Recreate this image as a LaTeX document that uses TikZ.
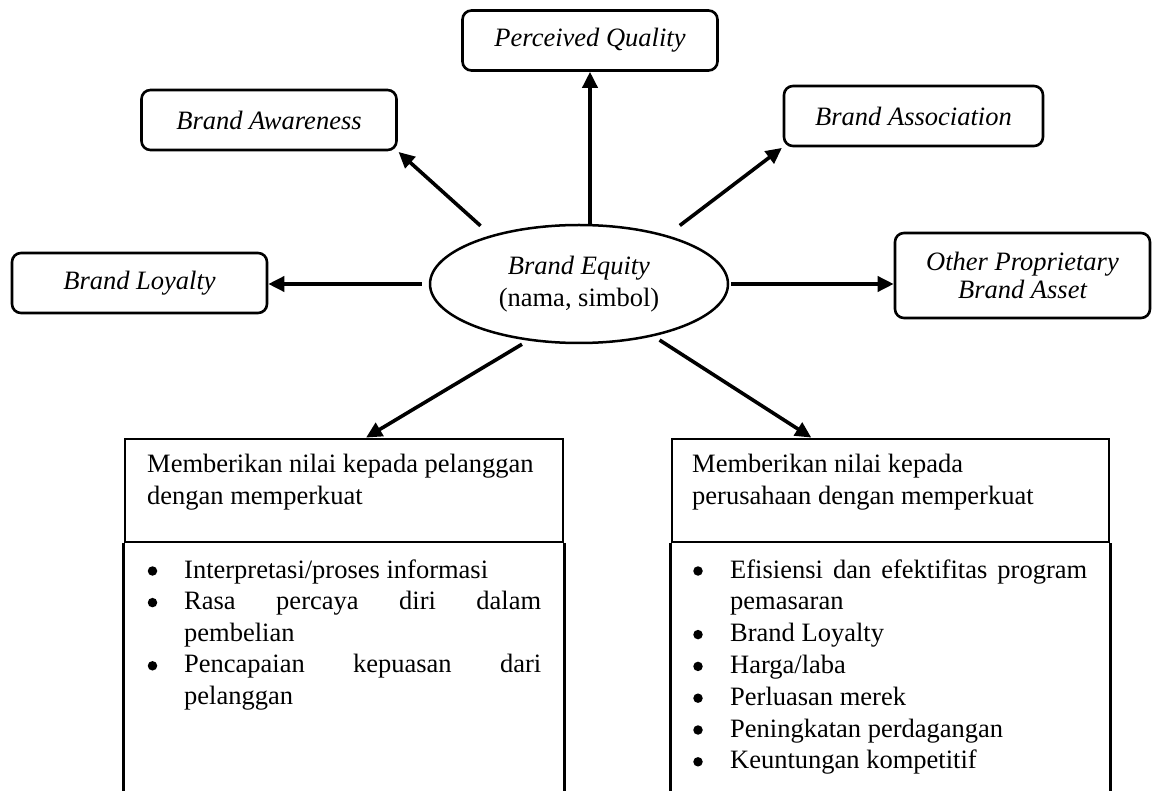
\documentclass[tikz,border=0pt]{standalone}
\usepackage{fontspec}
\setmainfont{Liberation Serif}
\usetikzlibrary{arrows.meta,calc,shapes.geometric}
\begin{document}
\begin{tikzpicture}[x=1pt,y=-1pt,
  every node/.style={font=\fontsize{26.5}{32}\selectfont},
  rbox/.style={draw, line width=2.6pt, rounded corners=9pt, minimum width=255pt, minimum height=60pt, inner sep=0pt, font=\fontsize{26.5}{28}\selectfont\itshape, align=center},
  hbox/.style={draw, line width=2.8pt, minimum height=103pt, inner sep=0pt},
  side/.style={line width=2.8pt},
  arr/.style={line width=3.6pt, -{Triangle[length=16pt,width=15pt]}},
  txt/.style={anchor=base west, inner sep=0pt},
  dot/.style={circle, fill=black, inner sep=0pt, minimum size=9.5pt, yshift=1.5pt},
]
\useasboundingbox (0,0) rectangle (1152,791);
% top boxes
\node[rbox] (pq) at (590,40.5) {Perceived Quality};
\node[rbox] (ba) at (269,120) {Brand Awareness};
\node[rbox, minimum width=259pt] (bas) at (913.5,116) {Brand Association};
\node[rbox] (bl) at (139.5,283) {Brand Loyalty};
\node[rbox, minimum height=85pt] (oa) at (1022.5,275.5) {Other Proprietary\\Brand Asset};
% centre
\node[ellipse, draw, line width=2.5pt, minimum width=298pt, minimum height=118pt, inner sep=0pt, align=center] (eq) at (579,284) {\textit{Brand Equity}\\(nama, simbol)};
% bottom tables
\node[hbox, minimum width=438pt] (hL) at (344,490.5) {};
\node[hbox, minimum width=437pt] (hR) at (890.5,490.5) {};
\draw[side] (hL.south west) -- ++(0,270);
\draw[side] (hL.south east) -- ++(0,270);
\draw[side] (hR.south west) -- ++(0,270);
\draw[side] (hR.south east) -- ++(0,270);
% arrows
\draw[arr] (pq.south |- eq.north) -- (pq.south);
\draw[arr, shorten <=14pt, shorten >=1pt] (eq.151) -- (ba.south east);
\draw[arr, shorten <=16pt, shorten >=1pt] (eq.29) -- (bas.south west);
\draw[arr, shorten <=7pt] (eq.west) -- (eq.west -| bl.east);
\draw[arr, shorten <=2pt] (eq.east) -- (eq.east -| oa.west);
\draw[arr, shorten <=7pt] (eq.228) -- ($(hL.north west)!0.55!(hL.north east)$);
\draw[arr, shorten <=7pt] (eq.325) -- ($(hR.north west)!0.32!(hR.north east)$);
% left table text
\node[txt] (lh1) at (147,473) {Memberikan nilai kepada pelanggan};
\node[txt] (lh2) at (147,505) {dengan memperkuat};
\node[dot] (lb1) at (152.5,572.5) {};
\node[txt] (lt1) at (184,578) {Interpretasi/proses informasi};
\node[dot] (lb2) at (152.5,604.1) {};
\node[txt] (lt2) at (184,609.6) {\makebox[357pt][s]{Rasa percaya diri dalam}};
\node[txt] (lt2b) at (184,641.2) {pembelian};
\node[dot] (lb3) at (152.5,667.3) {};
\node[txt] (lt3) at (184,672.8) {\makebox[357pt][s]{Pencapaian kepuasan dari}};
\node[txt] (lt3b) at (184,704.4) {pelanggan};
% right table text
\node[txt] (rh1) at (692,473) {Memberikan nilai kepada};
\node[txt] (rh2) at (692,505) {perusahaan dengan memperkuat};
\node[dot] (rb1) at (698,572.5) {};
\node[txt] (rt1) at (730,578) {\makebox[357pt][s]{Efisiensi dan efektifitas program}};
\node[txt] (rt1b) at (730,609.8) {pemasaran};
\node[dot] (rb2) at (698,636.1) {};
\node[txt] (rt2) at (730,641.6) {Brand Loyalty};
\node[dot] (rb3) at (698,667.9) {};
\node[txt] (rt3) at (730,673.4) {Harga/laba};
\node[dot] (rb4) at (698,699.7) {};
\node[txt] (rt4) at (730,705.2) {Perluasan merek};
\node[dot] (rb5) at (698,731.5) {};
\node[txt] (rt5) at (730,737) {Peningkatan perdagangan};
\node[dot] (rb6) at (698,763.3) {};
\node[txt] (rt6) at (730,768.8) {Keuntungan kompetitif};
\end{tikzpicture}
\end{document}
